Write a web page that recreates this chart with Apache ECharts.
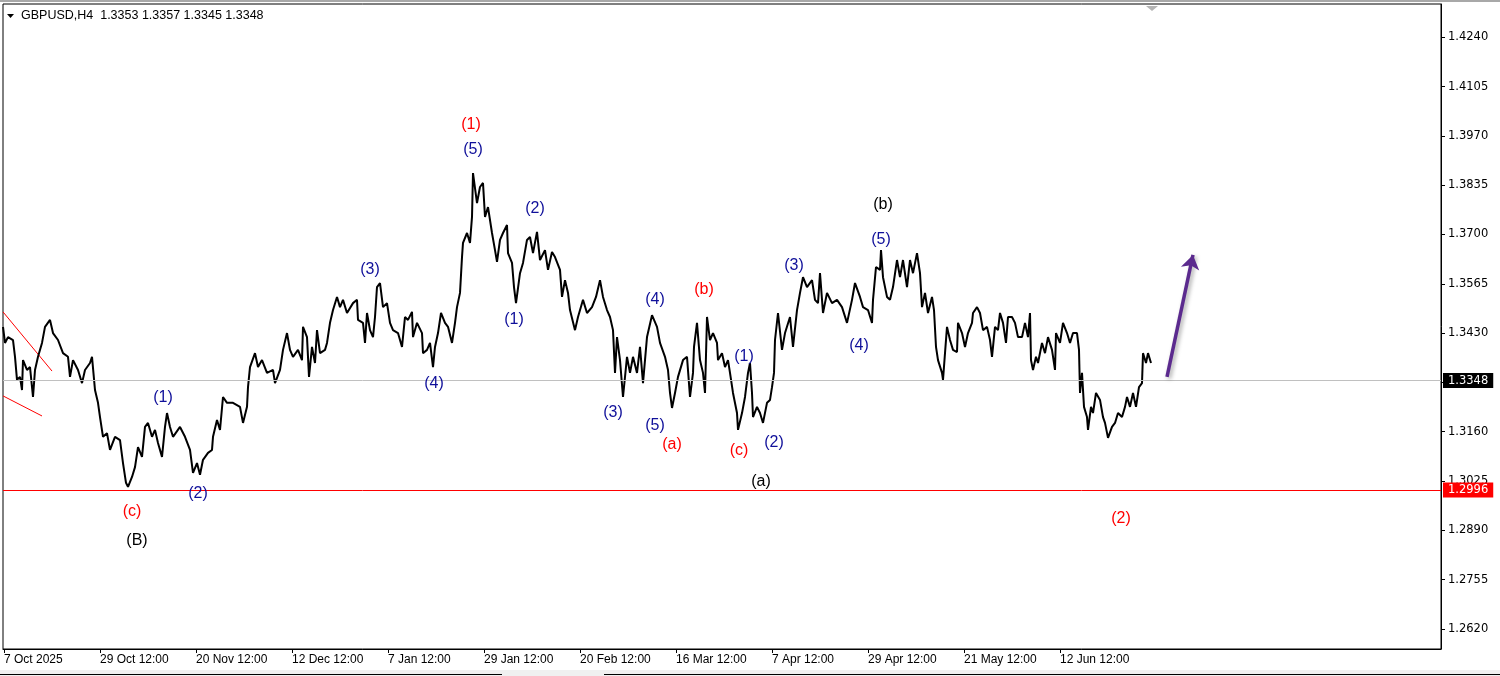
<!DOCTYPE html>
<html>
<head>
<meta charset="utf-8">
<script src="https://cdn.jsdelivr.net/npm/echarts@6/dist/echarts.min.js"></script>
<style>
  html, body { margin: 0; padding: 0; background: #fff; }
  #chart { width: 1500px; height: 676px; }
</style>
</head>
<body>
<div id="chart"></div>
<script>
// symbol header
const symbolName = 'GBPUSD,H4'
const quote = [1.3353, 1.3357, 1.3345, 1.3348]   // open high low close

// time axis: bar index of each date label
const xTickBars = [0, 96, 192, 288, 384, 480, 576, 672, 768, 864, 960, 1056]
const xTickLabels = ['7 Oct 2025', '29 Oct 12:00', '20 Nov 12:00', '12 Dec 12:00', '7 Jan 12:00', '29 Jan 12:00',
  '20 Feb 12:00', '16 Mar 12:00', '7 Apr 12:00', '29 Apr 12:00', '21 May 12:00', '12 Jun 12:00']

// price scale
const yTicks = [1.2620, 1.2755, 1.2890, 1.3025, 1.3160, 1.3295, 1.3430, 1.3565, 1.3700, 1.3835, 1.3970, 1.4105, 1.4240]

// traced price path [bar, price]
const pricePath = [
  [-1, 1.3447], [1, 1.3403], [4, 1.3419], [9, 1.3411], [11, 1.3365], [13, 1.3302], [16, 1.3310], [18, 1.3274],
  [19, 1.3356], [23, 1.3329], [26, 1.3337], [29, 1.3255], [31, 1.3329], [34, 1.3365], [38, 1.3403], [41, 1.3447],
  [46, 1.3466], [49, 1.3430], [54, 1.3411], [59, 1.3375], [64, 1.3365], [66, 1.3310], [69, 1.3356], [74, 1.3329],
  [78, 1.3293], [81, 1.3329], [86, 1.3348], [88, 1.3365], [91, 1.3274], [94, 1.3239], [96, 1.3200], [99, 1.3146],
  [103, 1.3156], [106, 1.3110], [111, 1.3146], [116, 1.3137], [119, 1.3074], [122, 1.3020], [124, 1.3009],
  [128, 1.3036], [131, 1.3063], [134, 1.3118], [138, 1.3091], [141, 1.3173], [144, 1.3184], [148, 1.3146],
  [151, 1.3165], [154, 1.3129], [158, 1.3091], [161, 1.3173], [163, 1.3211], [166, 1.3173], [169, 1.3146],
  [176, 1.3173], [181, 1.3146], [186, 1.3110], [189, 1.3047], [193, 1.3074], [196, 1.3042], [199, 1.3083],
  [204, 1.3102], [208, 1.3110], [209, 1.3146], [213, 1.3192], [216, 1.3165], [219, 1.3255], [223, 1.3239],
  [229, 1.3239], [236, 1.3228], [239, 1.3184], [243, 1.3228], [244, 1.3282], [246, 1.3337], [251, 1.3375],
  [254, 1.3337], [258, 1.3356], [263, 1.3321], [269, 1.3329], [271, 1.3293], [276, 1.3329], [279, 1.3384],
  [283, 1.3430], [286, 1.3384], [289, 1.3365], [294, 1.3384], [298, 1.3356], [299, 1.3447], [303, 1.3419],
  [305, 1.3310], [308, 1.3392], [311, 1.3348], [313, 1.3438], [316, 1.3375], [321, 1.3384], [323, 1.3403],
  [326, 1.3458], [329, 1.3493], [333, 1.3529], [336, 1.3501], [339, 1.3521], [343, 1.3485], [349, 1.3512],
  [353, 1.3521], [354, 1.3466], [359, 1.3458], [361, 1.3403], [363, 1.3485], [366, 1.3438], [369, 1.3419],
  [371, 1.3474], [373, 1.3556], [376, 1.3567], [379, 1.3501], [383, 1.3512], [386, 1.3458], [389, 1.3438],
  [394, 1.3430], [398, 1.3392], [401, 1.3474], [404, 1.3466], [408, 1.3488], [409, 1.3419], [413, 1.3458],
  [418, 1.3430], [419, 1.3375], [423, 1.3384], [426, 1.3403], [429, 1.3337], [431, 1.3392], [434, 1.3430],
  [437, 1.3485], [441, 1.3458], [444, 1.3447], [448, 1.3403], [451, 1.3458], [453, 1.3501], [456, 1.3540],
  [458, 1.3638], [459, 1.3677], [463, 1.3704], [466, 1.3677], [468, 1.3748], [469, 1.3868], [473, 1.3786],
  [476, 1.3830], [479, 1.3841], [481, 1.3748], [484, 1.3775], [488, 1.3704], [491, 1.3657], [493, 1.3625],
  [496, 1.3685], [499, 1.3704], [503, 1.3726], [504, 1.3649], [508, 1.3622], [510, 1.3556], [512, 1.3512],
  [516, 1.3594], [519, 1.3622], [523, 1.3685], [526, 1.3693], [529, 1.3649], [533, 1.3707], [536, 1.3630],
  [541, 1.3657], [544, 1.3603], [548, 1.3652], [551, 1.3638], [556, 1.3603], [558, 1.3529], [561, 1.3575],
  [564, 1.3540], [566, 1.3493], [571, 1.3438], [574, 1.3474], [579, 1.3521], [583, 1.3485], [588, 1.3501],
  [592, 1.3529], [596, 1.3575], [599, 1.3529], [603, 1.3493], [606, 1.3474], [609, 1.3438], [611, 1.3321],
  [613, 1.3419], [616, 1.3356], [619, 1.3255], [623, 1.3365], [626, 1.3321], [629, 1.3365], [633, 1.3321],
  [636, 1.3392], [639, 1.3293], [643, 1.3419], [648, 1.3479], [653, 1.3447], [656, 1.3403], [661, 1.3365],
  [664, 1.3329], [666, 1.3266], [668, 1.3225], [671, 1.3266], [674, 1.3310], [679, 1.3356], [683, 1.3365],
  [686, 1.3255], [689, 1.3321], [690, 1.3392], [693, 1.3458], [696, 1.3356], [699, 1.3321], [701, 1.3266],
  [703, 1.3474], [706, 1.3411], [709, 1.3430], [713, 1.3403], [714, 1.3356], [718, 1.3375], [721, 1.3337],
  [724, 1.3356], [726, 1.3321], [729, 1.3266], [733, 1.3211], [734, 1.3165], [738, 1.3211], [741, 1.3255],
  [744, 1.3321], [746, 1.3348], [748, 1.3266], [749, 1.3200], [753, 1.3228], [756, 1.3211], [759, 1.3184],
  [763, 1.3239], [766, 1.3247], [768, 1.3282], [770, 1.3321], [771, 1.3411], [774, 1.3485], [778, 1.3384],
  [781, 1.3430], [786, 1.3474], [789, 1.3392], [793, 1.3493], [796, 1.3540], [799, 1.3583], [803, 1.3556],
  [808, 1.3575], [811, 1.3521], [814, 1.3512], [816, 1.3594], [819, 1.3485], [823, 1.3540], [828, 1.3512],
  [833, 1.3521], [838, 1.3501], [843, 1.3458], [848, 1.3521], [851, 1.3567], [856, 1.3529], [859, 1.3501],
  [864, 1.3493], [868, 1.3458], [869, 1.3521], [872, 1.3611], [876, 1.3603], [877, 1.3657], [879, 1.3583],
  [883, 1.3529], [886, 1.3521], [889, 1.3556], [893, 1.3630], [896, 1.3583], [899, 1.3630], [903, 1.3556],
  [906, 1.3630], [909, 1.3594], [913, 1.3649], [916, 1.3594], [918, 1.3501], [921, 1.3540], [924, 1.3485],
  [928, 1.3529], [930, 1.3493], [932, 1.3392], [934, 1.3356], [938, 1.3321], [939, 1.3302], [941, 1.3375],
  [943, 1.3447], [946, 1.3411], [949, 1.3384], [953, 1.3378], [954, 1.3458], [958, 1.3430], [961, 1.3392],
  [964, 1.3430], [968, 1.3458], [969, 1.3485], [973, 1.3501], [976, 1.3485], [979, 1.3438], [983, 1.3447],
  [986, 1.3411], [988, 1.3365], [991, 1.3447], [994, 1.3438], [996, 1.3485], [999, 1.3458], [1002, 1.3403],
  [1004, 1.3474], [1008, 1.3474], [1011, 1.3458], [1014, 1.3419], [1018, 1.3419], [1021, 1.3458], [1024, 1.3419],
  [1026, 1.3485], [1027, 1.3356], [1029, 1.3329], [1032, 1.3365], [1034, 1.3348], [1038, 1.3403], [1041, 1.3375],
  [1044, 1.3419], [1048, 1.3384], [1051, 1.3329], [1052, 1.3430], [1056, 1.3403], [1059, 1.3458], [1063, 1.3430],
  [1066, 1.3403], [1069, 1.3430], [1073, 1.3430], [1075, 1.3384], [1076, 1.3266], [1078, 1.3321], [1080, 1.3228],
  [1083, 1.3200], [1084, 1.3165], [1087, 1.3228], [1089, 1.3211], [1092, 1.3266], [1096, 1.3247], [1099, 1.3200],
  [1101, 1.3184], [1104, 1.3143], [1108, 1.3173], [1111, 1.3184], [1114, 1.3211], [1118, 1.3200], [1121, 1.3228],
  [1123, 1.3255], [1126, 1.3228], [1129, 1.3266], [1132, 1.3228], [1135, 1.3282], [1138, 1.3293], [1139, 1.3375],
  [1142, 1.3348], [1144, 1.3375], [1147, 1.3348]
]

// levels
const stopLevel = 1.2996
const lastPrice = 1.3348

// drawn trend lines (red channel) and projection arrow
const channelUpper = [[-1, 1.3488], [48, 1.3326]]
const channelLower = [[-1, 1.3258], [38, 1.3203]]
const arrowFrom = [1163, 1.3310]
const arrowTo = [1189, 1.3644]

// wave labels
const waveText = ['(1)', '(5)', '(3)', '(4)', '(2)', '(1)', '(1)', '(c)', '(B)', '(2)', '(3)', '(4)', '(5)', '(a)',
  '(b)', '(c)', '(1)', '(2)', '(a)', '(3)', '(b)', '(5)', '(4)', '(2)']
const waveBar = [467, 469, 366, 430, 531, 510, 159, 128, 133, 194, 609, 651, 651, 668,
  700, 735, 740, 770, 757, 790, 879, 877, 855, 1117]
const wavePrice = [1.4002, 1.3931, 1.3603, 1.3293, 1.3772, 1.3466, 1.3252, 1.2940, 1.2861, 1.2990, 1.3211, 1.3521,
  1.3178, 1.3126, 1.3548, 1.3107, 1.3365, 1.3129, 1.3022, 1.3616, 1.3781, 1.3685, 1.3395, 1.2921]
const waveDegree = ['primary', 'minute', 'minute', 'minute', 'minute', 'minute', 'minute', 'primary', 'cycle', 'minute',
  'minute', 'minute', 'minute', 'primary', 'primary', 'primary', 'minute', 'minute', 'cycle', 'minute', 'cycle',
  'minute', 'minute', 'primary']

const degreeColor = { primary: '#ff0000', minute: '#10109a', cycle: '#000000' }

var myChart = echarts.init(document.getElementById('chart'))

const waveData = []
for (let i = 0; i < waveText.length; i++) {
  waveData.push([waveBar[i], wavePrice[i], i])
}

var option = {
  animation: false,
  backgroundColor: '#fff',
  grid: {
    left: 3,
    right: 59,
    top: 4,
    bottom: 27,
    show: true,
    borderColor: '#000',
    borderWidth: 1,
    backgroundColor: '#fff'
  },
  xAxis: {
    type: 'value',
    min: -1,
    max: 1437,
    splitLine: { show: false },
    axisLine: { show: true, onZero: false, lineStyle: { color: '#000', width: 1 } },
    axisTick: {
      show: true,
      length: 4,
      customValues: xTickBars,
      lineStyle: { color: '#000' }
    },
    axisLabel: {
      customValues: xTickBars,
      formatter: function(v) {
        const k = xTickBars.indexOf(v)
        return k >= 0 ? xTickLabels[k] : ''
      },
      align: 'left',
      margin: 5,
      color: '#000',
      fontSize: 12,
      fontFamily: 'Liberation Sans'
    }
  },
  yAxis: {
    type: 'value',
    position: 'right',
    min: 1.2565,
    max: 1.4331,
    splitLine: { show: false },
    axisLine: { show: true, onZero: false, lineStyle: { color: '#000', width: 1 } },
    axisTick: {
      show: true,
      length: 4,
      customValues: yTicks,
      lineStyle: { color: '#000' }
    },
    axisLabel: {
      customValues: yTicks,
      formatter: function(v) { return v.toFixed(4) },
      margin: 7,
      color: '#000',
      fontSize: 11.5,
      fontFamily: 'DejaVu Sans'
    }
  },
  graphic: [
    // window chrome
    { type: 'rect', shape: { x: 0, y: 0, width: 1500, height: 2 }, style: { fill: '#a8a8a8' } },
    { type: 'polygon', shape: { points: [[1146, 6], [1158, 6], [1152, 11]] }, style: { fill: '#b4b4b4' } },
    { type: 'rect', shape: { x: 0, y: 670, width: 1500, height: 6 }, style: { fill: '#f0f0f0' } },
    { type: 'line', shape: { x1: 0, y1: 674.5, x2: 502, y2: 674.5 }, style: { stroke: '#000', lineWidth: 1 } },
    { type: 'line', shape: { x1: 604, y1: 674.5, x2: 1500, y2: 674.5 }, style: { stroke: '#000', lineWidth: 1 } },
    // header
    { type: 'polygon', shape: { points: [[7, 14], [14, 14], [10.5, 18]] }, style: { fill: '#000' } },
    {
      type: 'text',
      left: 21,
      top: 9,
      style: {
        text: symbolName + '  ' + quote.map(q => q.toFixed(4)).join(' '),
        fill: '#000',
        font: '12.5px "Liberation Sans"'
      }
    }
  ],
  series: [
    {
      name: 'channel upper',
      type: 'line',
      data: channelUpper,
      showSymbol: false,
      silent: true,
      lineStyle: { color: '#ff0000', width: 1 }
    },
    {
      name: 'channel lower',
      type: 'line',
      data: channelLower,
      showSymbol: false,
      silent: true,
      lineStyle: { color: '#ff0000', width: 1 }
    },
    {
      name: 'GBPUSD',
      type: 'line',
      data: pricePath,
      showSymbol: false,
      silent: true,
      z: 3,
      lineStyle: { color: '#000', width: 2 },
      markLine: {
        silent: true,
        symbol: ['none', 'none'],
        animation: false,
        data: [
          {
            yAxis: lastPrice,
            lineStyle: { color: '#c0c0c0', width: 1, type: 'solid' },
            label: {
              position: 'end',
              distance: 2,
              formatter: lastPrice.toFixed(4),
              color: '#fff',
              backgroundColor: '#000',
              padding: [2, 5, 1, 5],
              fontSize: 11.5,
              fontFamily: 'DejaVu Sans'
            }
          },
          {
            yAxis: stopLevel,
            lineStyle: { color: '#ff0000', width: 1, type: 'solid' },
            label: {
              position: 'end',
              distance: 2,
              formatter: stopLevel.toFixed(4),
              color: '#fff',
              backgroundColor: '#ff0000',
              padding: [2, 5, 1, 5],
              fontSize: 11.5,
              fontFamily: 'DejaVu Sans'
            }
          }
        ]
      }
    },
    {
      name: 'projection',
      type: 'line',
      data: [],
      markLine: {
        silent: true,
        animation: false,
        symbol: ['none', 'arrow'],
        symbolSize: 14,
        label: { show: false },
        lineStyle: {
          color: '#5b2a8e',
          width: 3.5,
          type: 'solid',
          shadowBlur: 4,
          shadowColor: 'rgba(0,0,0,0.35)',
          shadowOffsetX: 2,
          shadowOffsetY: 2
        },
        data: [[{ coord: arrowFrom }, { coord: arrowTo }]]
      }
    },
    {
      name: 'waves',
      type: 'custom',
      data: waveData,
      silent: true,
      z: 5,
      renderItem: function(params, api) {
        const pt = api.coord([api.value(0), api.value(1)])
        const k = api.value(2)
        return {
          type: 'text',
          x: pt[0],
          y: pt[1],
          style: {
            text: waveText[k],
            fill: degreeColor[waveDegree[k]],
            font: '16px "Liberation Sans"',
            align: 'center',
            verticalAlign: 'middle'
          }
        }
      }
    }
  ]
}

myChart.setOption(option)
</script>
</body>
</html>
